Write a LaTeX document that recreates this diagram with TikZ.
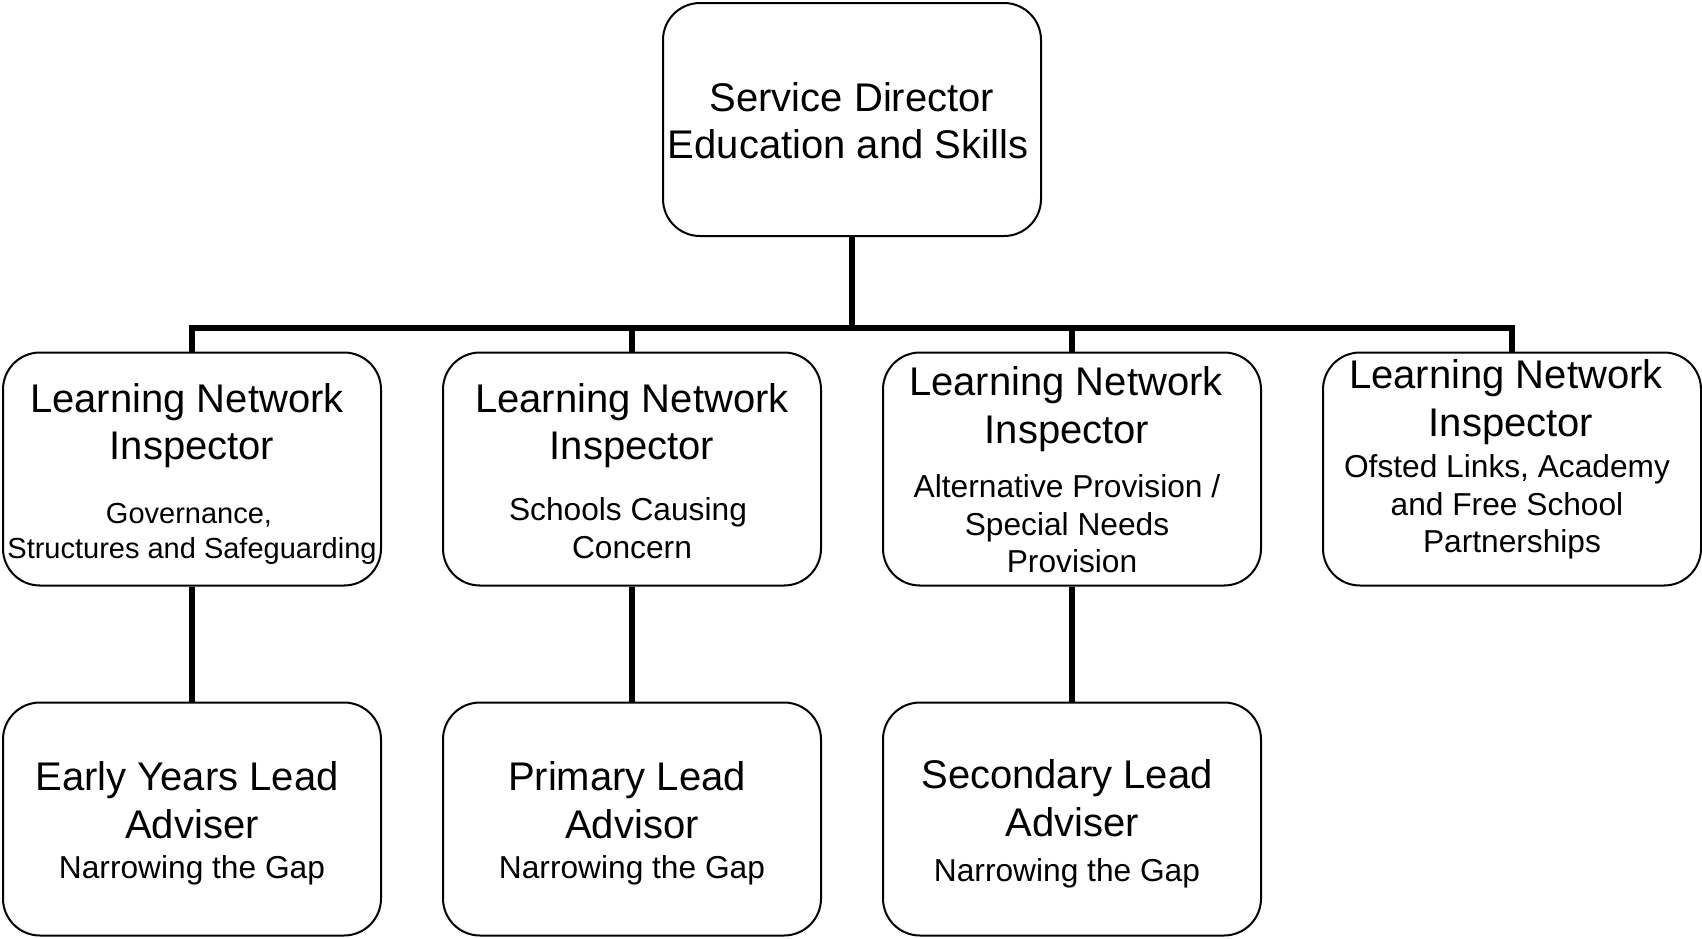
\documentclass[tikz,border=0pt]{standalone}
\usepackage{fontspec}
\setmainfont{Liberation Sans}
\begin{document}
\begin{tikzpicture}[x=1pt,y=-1pt,
  box/.style={draw=black, line width=2pt, rounded corners=37pt, minimum width=378pt, minimum height=233pt, inner sep=0pt},
  conn/.style={draw=black, line width=5.5pt, line join=miter},
  bigtxt/.style={anchor=base, inner sep=0pt, font=\fontsize{40}{47}\selectfont},
  subtxt/.style={anchor=base, inner sep=0pt, font=\fontsize{31.7}{37}\selectfont},
  subsm/.style={anchor=base, inner sep=0pt, font=\fontsize{29}{35}\selectfont}]
\useasboundingbox (0,0) rectangle (1702,938);

% boxes
\node[box] (top) at (852,119.5) {};
\node[box] (m1) at (192,469) {};
\node[box] (m2) at (632,469) {};
\node[box] (m3) at (1072,469) {};
\node[box] (m4) at (1512,469) {};
\node[box] (b1) at (192,819) {};
\node[box] (b2) at (632,819) {};
\node[box] (b3) at (1072,819) {};

% connectors
\coordinate (bar) at (852,328);
\draw[conn] (top.south) -- (bar);
\draw[conn] (m1.north) -- (m1.north |- bar) -- (m4.north |- bar) -- (m4.north);
\draw[conn] (m2.north) -- (m2.north |- bar);
\draw[conn] (m3.north) -- (m3.north |- bar);
\draw[conn] (m1.south) -- (b1.north);
\draw[conn] (m2.south) -- (b2.north);
\draw[conn] (m3.south) -- (b3.north);

% top text
\node[bigtxt] (t0a) at (852,111) {Service Director};
\node[bigtxt] (t0b) at (848,158) {Education and Skills};

% middle row
\node[bigtxt] (t1a) at (187,412) {Learning Network};
\node[bigtxt] (t1b) at (192,459) {Inspector};
\node[subsm] (t1c) at (189,523) {Governance,};
\node[subsm] (t1d) at (192,558) {Structures and Safeguarding};

\node[bigtxt] (t2a) at (632,412) {Learning Network};
\node[bigtxt] (t2b) at (632,459) {Inspector};
\node[subtxt] (t2c) at (628,520) {Schools Causing};
\node[subtxt] (t2d) at (632,558) {Concern};

\node[bigtxt] (t3a) at (1066,395) {Learning Network};
\node[bigtxt] (t3b) at (1067,443) {Inspector};
\node[subtxt] (t3c) at (1067,497) {Alternative Provision /};
\node[subtxt] (t3d) at (1067,535) {Special Needs};
\node[subtxt] (t3e) at (1072,572) {Provision};

\node[bigtxt] (t4a) at (1506,388) {Learning Network};
\node[bigtxt] (t4b) at (1511,436) {Inspector};
\node[subtxt] (t4c) at (1507,477) {Ofsted Links, Academy};
\node[subtxt] (t4d) at (1507,515) {and Free School};
\node[subtxt] (t4e) at (1512,552) {Partnerships};

% bottom row
\node[bigtxt] (t5a) at (187,790) {Early Years Lead};
\node[bigtxt] (t5b) at (192,838) {Adviser};
\node[subtxt] (t5c) at (192,878) {Narrowing the Gap};

\node[bigtxt] (t6a) at (627,790) {Primary Lead};
\node[bigtxt] (t6b) at (632,838) {Advisor};
\node[subtxt] (t6c) at (632,878) {Narrowing the Gap};

\node[bigtxt] (t7a) at (1067,788) {Secondary Lead};
\node[bigtxt] (t7b) at (1072,836) {Adviser};
\node[subtxt] (t7c) at (1067,881) {Narrowing the Gap};
\end{tikzpicture}
\end{document}
